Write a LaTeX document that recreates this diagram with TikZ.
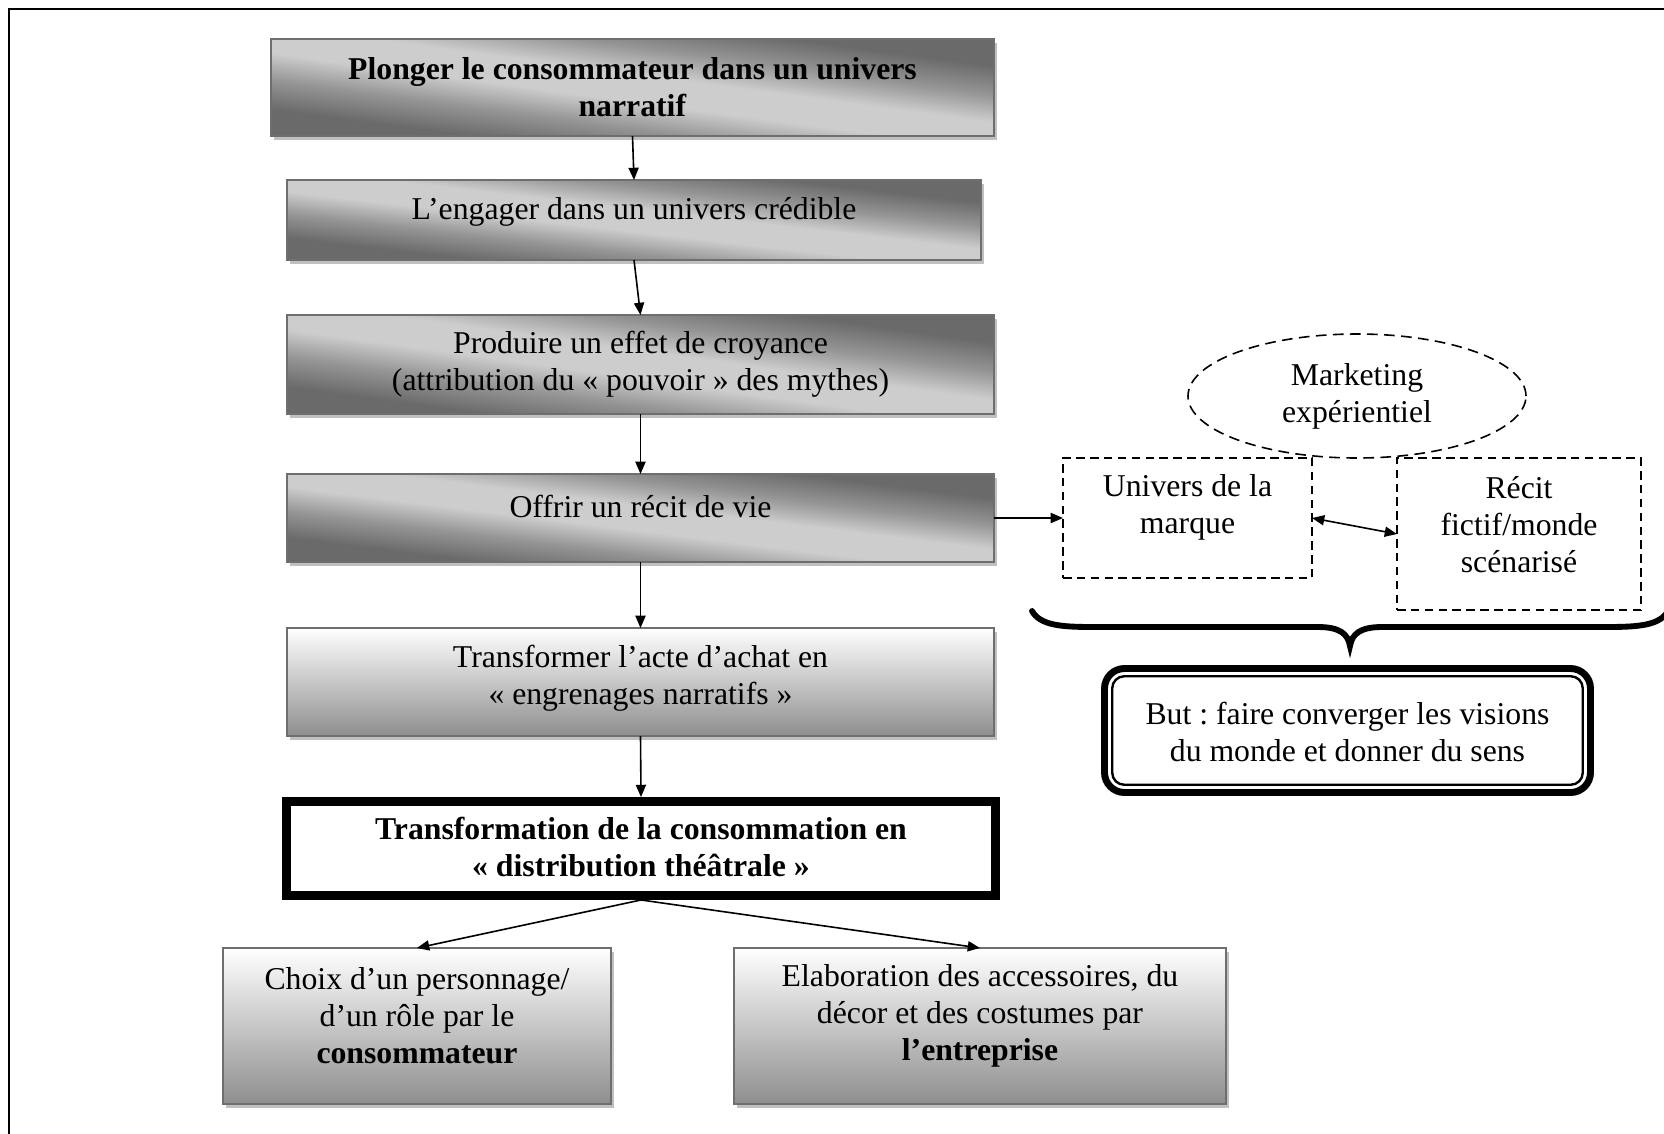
\documentclass[tikz,border=0pt]{standalone}
\usepackage{fontspec}
\setmainfont{Liberation Serif}
\usetikzlibrary{arrows.meta,shapes.geometric,shadows}
\definecolor{gdark}{HTML}{6A6A6A}
\definecolor{gmid}{HTML}{959595}
\definecolor{glight}{HTML}{CDCDCD}
\definecolor{gborder}{HTML}{6E6E6E}
\definecolor{gshadow}{HTML}{C0C0C0}
\definecolor{gbot}{HTML}{8E8E8E}
\pgfdeclareverticalshading{diagsh}{100bp}{color(0bp)=(gdark); color(25bp)=(gdark); color(32bp)=(gdark); color(39.5bp)=(gmid); color(46.5bp)=(glight); color(53.5bp)=(glight); color(60.5bp)=(gmid); color(68bp)=(gdark); color(75bp)=(gdark); color(100bp)=(gdark)}
\newcommand\diagfill[3]{%
  \begin{scope}
    \clip (#1.south west) rectangle (#1.north east);
    \shade[shading=diagsh, transform canvas={shift={(#1.center)}, xscale={#2*0.1875}, yscale={#3*0.1875}, rotate=-45}] (-1.42pt,-1.42pt) rectangle (1.42pt,1.42pt);
  \end{scope}
  \draw[gborder, line width=0.75pt] (#1.south west) rectangle (#1.north east);}
\begin{document}
\frenchspacing
\begin{tikzpicture}[x=0.375pt, y=-0.375pt,
  sz/.style 2 args={minimum width=#1*0.375pt, minimum height=#2*0.375pt},
  base/.style={rectangle, inner sep=0pt, outer sep=0pt},
  shadowed/.style={drop shadow={shadow xshift=1.2pt, shadow yshift=-1.5pt, fill=gshadow, opacity=1}},
  diagbox/.style={base, shadowed},
  vertbox/.style={base, draw=gborder, line width=0.75pt, shadowed, top color=white, bottom color=gbot},
  txt/.style={align=center, inner sep=0pt, font=\fontsize{11.9}{13.9}\selectfont},
  dashbox/.style={base, draw, line width=0.6pt, dash pattern=on 3.2pt off 2pt},
  arr/.style={line width=0.6pt, -{Triangle[length=4.6pt,width=3.8pt]}},
  biarr/.style={line width=0.6pt, {Triangle[length=4.6pt,width=3.8pt]}-{Triangle[length=4.6pt,width=3.8pt]}},
]
\useasboundingbox (0,0) rectangle (1664,1133);
\clip (0,0) rectangle (1664,1133);

% outer frame (only top and left visible)
\draw[line width=0.75pt] (9,1200) -- (9,8.5) -- (1700,8.5);

% main column boxes
\node[diagbox, sz={723}{97}] (b1) at (632.5,87.5) {};
\diagfill{b1}{723}{97}
\node[txt] (t1) at (632.5,87.5) {\textbf{Plonger le consommateur dans un univers}\\\textbf{narratif}};

\node[diagbox, sz={694}{80}] (b2) at (634,220) {};
\diagfill{b2}{694}{80}
\node[txt] (t2) at (634,212) {L’engager dans un univers crédible};

\node[diagbox, sz={707}{99}] (b3) at (640.5,364.5) {};
\diagfill{b3}{707}{99}
\node[txt] (t3) at (640.5,364) {Produire un effet de croyance\\(attribution du «~pouvoir~» des mythes)};

\node[diagbox, sz={707}{88}] (b4) at (640.5,518) {};
\diagfill{b4}{707}{88}
\node[txt] (t4) at (640.5,506) {Offrir un récit de vie};

\node[vertbox, sz={707}{108}] (b5) at (640.5,682) {};
\node[txt] (t5) at (640.5,678) {Transformer l’acte d’achat en\\«~engrenages narratifs~»};

% double bordered box
\node[base, draw, line width=2.6pt, outer sep=1.3pt, fill=white, sz={711}{96}] (b6) at (641,848.5) {};
\draw[line width=0.9pt] ([shift={(7.75,7.75)}]b6.north west) rectangle ([shift={(-7.75,-7.75)}]b6.south east);
\node[txt] (t6) at (641,847) {\textbf{Transformation de la consommation en}\\\textbf{«~distribution théâtrale~»}};

% bottom boxes
\node[vertbox, sz={388}{156}] (b7) at (417,1026) {};
\node[txt] (t7) at (417,1016) {Choix d’un personnage/\\d’un rôle par le\\\textbf{consommateur}};

\node[vertbox, sz={492}{156}] (b8) at (980,1026) {};
\node[txt] (t8) at (980,1016) {Elaboration des accessoires, du\\décor et des costumes par\\\textbf{l’entreprise}};

% right part
\node[ellipse, draw, line width=0.6pt, dash pattern=on 4pt off 2.4pt, inner sep=0pt, sz={338}{124}, align=center, font=\fontsize{11.9}{13.9}\selectfont] (el) at (1357,396) {Marketing\\expérientiel};

\node[dashbox, sz={249}{120}] (univ) at (1187.5,518) {};
\node[txt] (tu) at (1187.5,507) {Univers de la\\marque};

\node[dashbox, sz={244}{152}] (recit) at (1519,534) {};
\node[txt] (tr) at (1519,525) {Récit\\fictif/monde\\scénarisé};

% brace
\draw[line width=2.2pt, line cap=round] (1032,611) .. controls (1040,625) and (1060,627) .. (1092,627) -- (1318,627) .. controls (1340,627) and (1348,634) .. (1350,646) .. controls (1352,634) and (1360,627) .. (1382,627) -- (1608,627) .. controls (1640,627) and (1660,625) .. (1668,611);

% goal box
\node[base, draw, line width=2.6pt, rounded corners=7.5pt, fill=white, sz={486}{124}] (goal) at (1347.5,730.5) {};
\draw[line width=0.9pt, rounded corners=4.5pt] ([shift={(7.75,7.75)}]goal.north west) rectangle ([shift={(-7.75,-7.75)}]goal.south east);
\node[txt] (tg) at (1347.5,732) {But : faire converger les visions\\du monde et donner du sens};

% connectors
\draw[arr] (b1.south) -- (b2.north);
\draw[arr] (b2.south) -- (b3.north);
\draw[arr] (b3.south) -- (b4.north);
\draw[arr] (b4.south) -- (b5.north);
\draw[arr] (b5.south) -- (b6.north);
\draw[arr] (b6.south) -- (b7.north);
\draw[arr] (b6.south) -- (b8.north);
\draw[arr] (b4.east) -- (univ.west);
\draw[biarr] (univ.east) -- (recit.west);
\end{tikzpicture}
\end{document}
